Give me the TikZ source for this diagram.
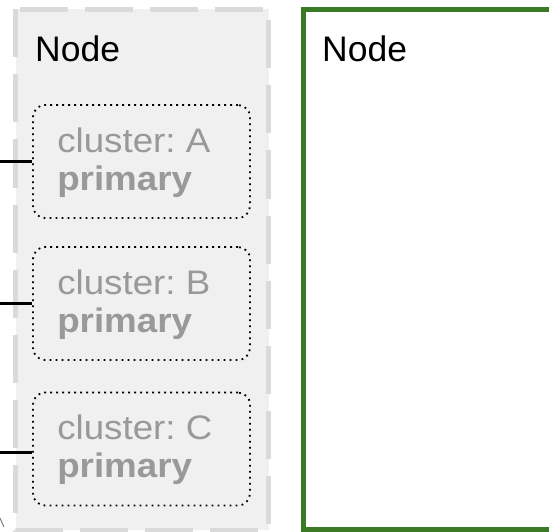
\documentclass[tikz,border=0pt]{standalone}
\usepackage{fontspec}
\setmainfont{Liberation Sans}
\newfontfamily\clusterfont[FakeStretch=1.08]{Liberation Sans}
\frenchspacing
\definecolor{groupfill}{HTML}{F0F0F0}
\definecolor{groupline}{HTML}{DADADA}
\definecolor{leafgreen}{HTML}{3B7A24}
\definecolor{mutedtext}{HTML}{999999}
\tikzset{
  groupbox/.style={draw=groupline, fill=groupfill, line width=5pt,
    dash pattern=on 48pt off 17pt},
  greenbox/.style={draw=leafgreen, fill=white, line width=5pt},
  clusterbox/.style={draw=black, line width=1.8pt, dash pattern=on 1.8pt off 4.2pt,
    rounded corners=12pt, minimum width=217pt, minimum height=113pt, inner sep=0pt},
  clusterline/.style={text=mutedtext, inner sep=0pt, anchor=base west,
    font=\clusterfont\fontsize{34}{40}\selectfont},
  title/.style={inner sep=0pt, anchor=base west, font=\fontsize{35.5}{40}\selectfont},
  wire/.style={draw=black, line width=3pt},
}
\begin{document}
\begin{tikzpicture}[x=1pt,y=-1pt]
\useasboundingbox (0,0) rectangle (549,532);
% outer group and the neighbouring node
\draw[groupbox] (15.5,9.5) rectangle (268.5,530);
\draw[greenbox] (303.5,9.5) rectangle (570,529);
\node[title] (gtitle) at (35,62) {Node};
\node[title] (ntitle) at (322,62) {Node};
% cluster members
\node[clusterbox] (boxA) at (141.5,161.5) {};
\node[clusterbox] (boxB) at (141.5,303.5) {};
\node[clusterbox] (boxC) at (141.5,449) {};
\foreach \b/\l in {A/A,B/B,C/C}{
  \node[clusterline] (name\b) at ([xshift=25pt,yshift=-48pt]box\b.north west) {cluster: \l};
  \node[clusterline] (role\b) at ([xshift=25pt,yshift=-86pt]box\b.north west) {\textbf{primary}};
}
% incoming wires
\coordinate (inA) at (0,161.5);
\coordinate (inB) at (0,303.5);
\coordinate (inC) at (0,452);
\draw[wire] (inA) -- (boxA.west);
\draw[wire] (inB) -- (boxB.west);
\draw[wire] (inC) -- (boxC.west |- inC);
% stray tip at the lower left
\coordinate (tipS) at (0,518);
\coordinate (tipE) at (4,527);
\draw[draw=gray, line width=1pt] (tipS) -- (tipE);
\end{tikzpicture}
\end{document}
